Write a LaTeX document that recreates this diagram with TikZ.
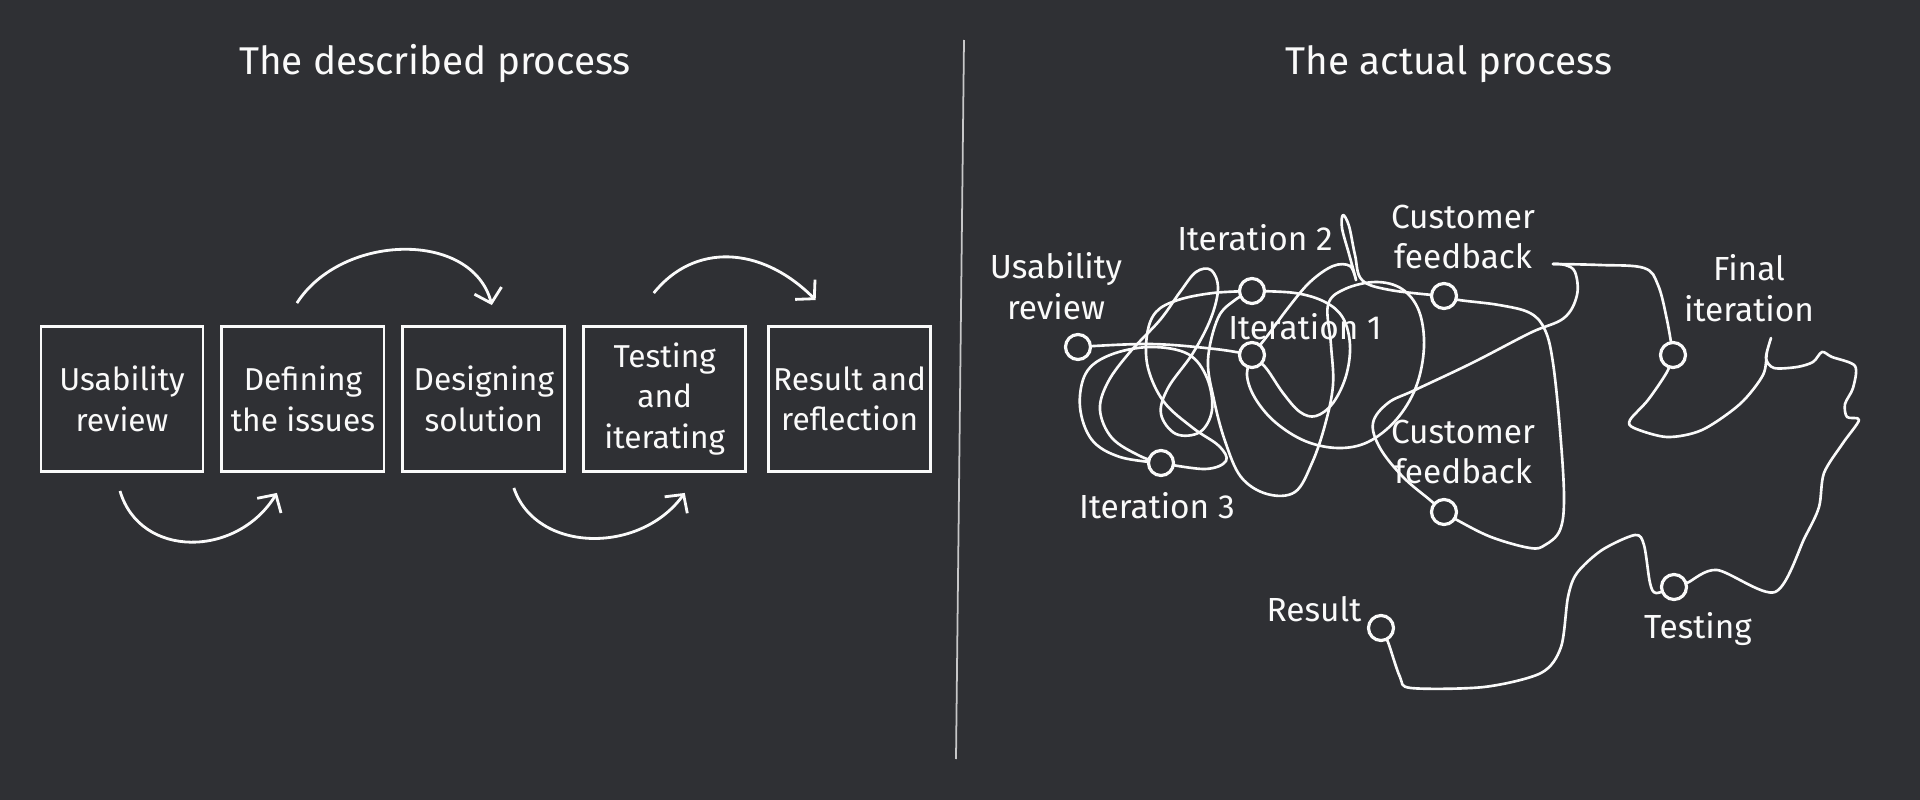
\documentclass[tikz,border=0pt]{standalone}
\usepackage{fontspec}
\setmainfont{Fira Sans}
\usetikzlibrary{arrows.meta, positioning, backgrounds}
\definecolor{board}{RGB}{47,48,52}
\definecolor{chalk}{RGB}{250,250,250}

\begin{document}
\begin{tikzpicture}[
  x = 0.01cm, y = -0.01cm,
  node distance = 0.16cm,
  every node/.style = {font=\fontsize{9.5}{11.5}\selectfont, text=chalk},
  heading/.style  = {font=\fontsize{11}{14}\selectfont},
  stage/.style    = {rectangle, draw=chalk, line width=0.8pt,
                     minimum width=1.62cm, minimum height=1.45cm,
                     font=\fontsize{9}{11.5}\selectfont,
                     align=center, inner sep=0pt},
  flow/.style     = {-{Straight Barb[length=1.3mm, width=2.8mm]},
                     draw=chalk, line width=0.8pt},
  dot/.style      = {circle, draw=chalk, fill=board, line width=0.9pt,
                     minimum size=0.25cm, inner sep=0pt},
  lbl/.style      = {align=center},
  scribble/.style = {draw=chalk, line width=0.75pt, line join=round,
                     line cap=round},
  divider/.style  = {draw=chalk!75!board, line width=0.5pt}
]

% --- board ---
\begin{scope}[on background layer]
  \fill[board] (0,0) rectangle (1920,800);
\end{scope}

% --- titles and divider ---
\node[heading] (ttl-l) at (435,64)  {The described process};
\node[heading] (ttl-r) at (1449,64) {The actual process};
\coordinate (div-top) at (964,40);
\coordinate (div-bot) at (956,759);
\draw[divider] (div-top) -- (div-bot);

% --- described process (left to right) ---
\node[stage] (usab) at (122,399)  {Usability\\review};
\node[stage, right=of usab] (defn) {Defining\\the issues};
\node[stage, right=of defn] (dsgn) {Designing\\solution};
\node[stage, right=of dsgn] (test) {Testing\\and\\iterating};
\node[stage, right=0.2cm of test] (rslt) {Result and\\reflection};

% --- hand drawn arrows ---
\draw[flow] ([shift={(-2,18)}]usab.south)
  .. controls +(20,68) and +(-40,65) .. ([shift={(-26,20)}]defn.south);
\draw[flow] ([shift={(-6,-22)}]defn.north)
  .. controls +(45,-70) and +(-20,-75) .. ([shift={(8,-20)}]dsgn.north);
\draw[flow] ([shift={(30,15)}]dsgn.south)
  .. controls +(22,65) and +(-45,62) .. ([shift={(20,20)}]test.south);
\draw[flow] ([shift={(-11,-32)}]test.north)
  .. controls +(40,-50) and +(-55,-55) .. ([shift={(-34,-25)}]rslt.north);

% --- actual process: stops ---
\node[dot] (ur)  at (1078,347) {};
\node[dot] (it2) at (1252,291) {};
\node[dot] (it1) at (1252,355) {};
\node[dot] (cf1) at (1444,296) {};
\node[dot] (it3) at (1161,463) {};
\node[dot] (cf2) at (1444,512) {};
\node[dot] (fin) at (1673,355) {};
\node[dot] (tst) at (1674,587) {};
\node[dot] (res) at (1381,628) {};

\node[lbl] (ur-t)  at (1056,286) {Usability\\review};
\node[lbl] (it2-t) at (1255,238) {Iteration 2};
\node[lbl] (it1-t) at (1305,327) {Iteration 1};
\node[lbl] (cf1-t) at (1463,237) {Customer\\feedback};
\node[lbl] (it3-t) at (1157,506) {Iteration 3};
\node[lbl] (cf2-t) at (1463,452) {Customer\\feedback};
\node[lbl] (fin-t) at (1749,288) {Final\\iteration};
\node[lbl] (tst-t) at (1698,629) {Testing};
\node[lbl] (res-t) at (1314,609) {Result};

% --- the tangle (behind the stops) ---
\coordinate (hook) at (1553,264);
\begin{scope}[on background layer]
\begin{scope}[every path/.style=scribble]
  \draw plot[smooth, tension=0.6] coordinates {(ur.center) (1150,344)
    (1215,349) (it1.center)};
  \draw plot[smooth, tension=0.6] coordinates {(it1.center) (1266,368)
    (1283,393) (1300,412) (1316,416) (1333,403) (1346,376) (1350,345)
    (1343,318) (1325,302) (1295,293) (it2.center)};
  \draw plot[smooth, tension=0.6] coordinates {(it2.center) (1213,293)
    (1178,300) (1156,312) (1147,335) (1148,368) (1164,402) (1193,428)
    (1219,446) (1226,461) (1205,469) (it3.center)};
  \draw plot[smooth, tension=0.6] coordinates {(it3.center) (1120,457)
    (1092,440) (1080,407) (1086,373) (1110,355) (1150,347) (1188,354)
    (1207,378) (1212,410) (1200,432) (1176,434) (1161,414) (1168,388)
    (1193,353) (1211,318) (1218,288) (1211,270) (1196,272) (1180,292)
    (1160,320) (1130,352) (1108,382) (1100,410) (1112,438) (1140,456)
    (it3.center)};
  \draw plot[smooth, tension=0.6] coordinates {(it1.center) (1268,335)
    (1288,308) (1310,282) (1333,266) (1350,266) (1356,280) (1349,254)
    (1342,228) (1343,215) (1349,226) (1355,255) (1362,280) (1390,290)
    (cf1.center)};
  \draw plot[smooth, tension=0.6] coordinates {(it1.center) (1247,375)
    (1255,398) (1275,422) (1305,441) (1338,448) (1368,442) (1396,420)
    (1416,387) (1424,347) (1419,311) (1402,289) (1376,282) (1345,289)
    (1328,305) (1331,345) (1333,385) (1325,425) (1312,463) (1295,492)
    (1267,494) (1241,477) (1225,441) (1214,400) (1208,360) (1218,318)
    (1235,300) (it2.center)};
  \draw plot[smooth, tension=0.6] coordinates {(cf1.center) (1459,300)
    (1499,305) (1530,313) (1545,330) (1553,363) (1560,430) (1564,497)
    (1560,530) (1545,545) (1530,548) (1491,537) (1457,520) (cf2.center)};
  \draw plot[smooth, tension=0.6] coordinates {(cf2.center) (1430,500)
    (1403,477) (1380,448) (1373,423) (1388,403) (1415,390) (1472,363)
    (1530,333) (1564,318) (1577,295) (1575,272) (1565,265) (hook)};
  \draw plot[smooth, tension=0.6] coordinates {(hook) (1600,265)
    (1644,268) (1658,285) (1667,320) (fin.center)};
  \draw plot[smooth, tension=0.5] coordinates {(fin.center) (1667,372)
    (1648,400) (1630,420) (1634,428) (1667,437) (1702,430) (1740,404)
    (1763,375) (1767,352) (1771,338) (1766,358) (1774,368) (1797,367)
    (1813,362) (1822,352) (1832,357) (1855,366) (1853,388) (1845,404)
    (1847,417) (1859,420) (1843,443) (1824,473) (1819,507) (1805,537)
    (1775,592) (1717,570) (1687,583) (tst.center)};
  \draw plot[smooth, tension=0.5] coordinates {(tst.center) (1656,593)
    (1650,583) (1644,545) (1635,535) (1602,550) (1577,573) (1568,597)
    (1561,647) (1541,673) (1484,687) (1411,688) (1400,677) (1388,642)
    (res.center)};
\end{scope}
\end{scope}

\end{tikzpicture}
\end{document}
